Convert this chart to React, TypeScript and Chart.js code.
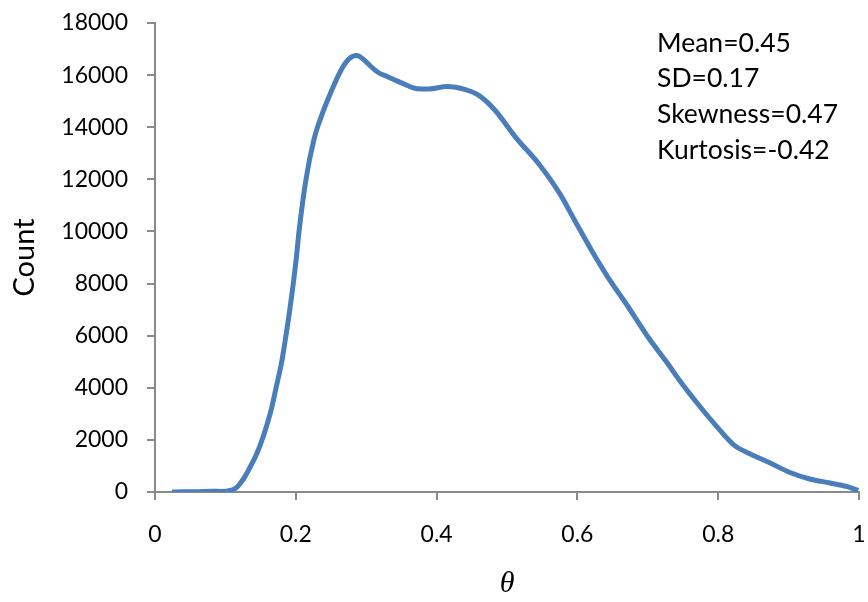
import React, { useEffect, useRef } from "react";
import { Chart, registerables } from "chart.js";

Chart.register(...registerables);

const thetaValues = [
  0.024, 0.04, 0.06, 0.08, 0.095, 0.107, 0.115, 0.121, 0.128, 0.135, 0.145, 0.154,
  0.165, 0.172, 0.18, 0.186, 0.193, 0.2, 0.205, 0.2145, 0.226, 0.236, 0.25, 0.264,
  0.276, 0.2865, 0.295, 0.306, 0.316, 0.332, 0.351, 0.372, 0.389, 0.415, 0.441, 0.46,
  0.483, 0.512, 0.545, 0.575, 0.596, 0.62, 0.643, 0.672, 0.7, 0.728, 0.746, 0.774,
  0.798, 0.822, 0.845, 0.874, 0.902, 0.93, 0.959, 0.982, 0.999,
];

const countValues = [
  0, 5, 10, 30, 20, 60, 150, 330, 600, 950, 1500, 2150,
  3150, 4000, 5000, 6000, 7300, 8800, 10100, 12000, 13550, 14400, 15350, 16180,
  16630, 16750, 16630, 16350, 16120, 15920, 15690, 15480, 15470, 15560, 15440, 15220,
  14650, 13620, 12600, 11450, 10430, 9280, 8260, 7110, 5960, 4940, 4250, 3280,
  2510, 1810, 1470, 1110, 750, 500, 345, 215, 60,
];

const statsLines = ["Mean=0.45", "SD=0.17", "Skewness=0.47", "Kurtosis=-0.42"];

const xTickMin = 0;
const xTickMax = 1;
const xTickStep = 0.2;
const yTickMin = 0;
const yTickMax = 18000;
const yTickStep = 2000;

const axisGray = "#8a8a8a";
const lineBlue = "#4a7ebb";

export default function App() {
  const canvasRef = useRef<HTMLCanvasElement | null>(null);

  useEffect(() => {
    const canvas = canvasRef.current;
    if (!canvas) return;

    const statsPlugin = {
      id: "statsText",
      afterDraw(chart: any) {
        const ctx = chart.ctx;
        ctx.save();
        ctx.fillStyle = "#000";
        ctx.font = "26.5px Lato";
        ctx.textAlign = "left";
        ctx.textBaseline = "alphabetic";
        const baselines = [51.7, 87.3, 123.3, 159];
        statsLines.forEach((t, i) => ctx.fillText(t, 657, baselines[i]));
        ctx.restore();
      },
    };

    const chart = new Chart(canvas, {
      type: "line",
      data: {
        datasets: [
          {
            data: thetaValues.map((x, i) => ({ x, y: countValues[i] })),
            borderColor: lineBlue,
            borderWidth: 5,
            pointRadius: 0,
            cubicInterpolationMode: "monotone",
            fill: false,
          },
        ],
      },
      options: {
        animation: false,
        responsive: false,
        devicePixelRatio: 1,
        layout: { padding: { left: 0, right: 9, top: 23, bottom: 0 } },
        plugins: {
          legend: { display: false },
          tooltip: { enabled: false },
        },
        scales: {
          x: {
            type: "linear",
            min: xTickMin,
            max: xTickMax,
            afterFit: (scale: any) => {
              scale.height = 110;
              scale.paddingLeft = 0;
              scale.paddingRight = 0;
            },
            ticks: {
              stepSize: xTickStep,
              color: "#000",
              font: { family: "Lato", size: 23 },
              padding: 21,
              callback: (v: any) => String(Number(Number(v).toFixed(1))),
            },
            grid: {
              drawOnChartArea: false,
              drawTicks: true,
              tickLength: 8,
              color: axisGray,
              lineWidth: 2,
            },
            border: { display: true, color: axisGray, width: 2 },
            title: {
              display: true,
              text: "θ",
              color: "#000",
              font: { family: "Liberation Serif", size: 30, style: "italic" },
              padding: { top: 0, bottom: 0 },
            },
          },
          y: {
            type: "linear",
            min: yTickMin,
            max: yTickMax,
            afterFit: (scale: any) => {
              scale.width = 155;
              scale.paddingTop = 0;
              scale.paddingBottom = 0;
            },
            ticks: {
              stepSize: yTickStep,
              color: "#000",
              font: { family: "Lato", size: 23 },
              padding: 19,
              callback: (v: any) => String(v),
            },
            grid: {
              drawOnChartArea: false,
              drawTicks: true,
              tickLength: 8,
              color: axisGray,
              lineWidth: 2,
            },
            border: { display: true, color: axisGray, width: 2 },
            title: {
              display: true,
              text: "Count",
              color: "#000",
              font: { family: "Lato", size: 29 },
              padding: { top: 7, bottom: 0 },
            },
          },
        },
      },
      plugins: [statsPlugin],
    });

    return () => chart.destroy();
  }, []);

  return (
    <div
      style={{
        position: "fixed",
        left: 0,
        top: 0,
        width: 868,
        height: 602,
        background: "#fff",
      }}
    >
      <canvas ref={canvasRef} width={868} height={602} style={{ width: 868, height: 602 }} />
    </div>
  );
}
